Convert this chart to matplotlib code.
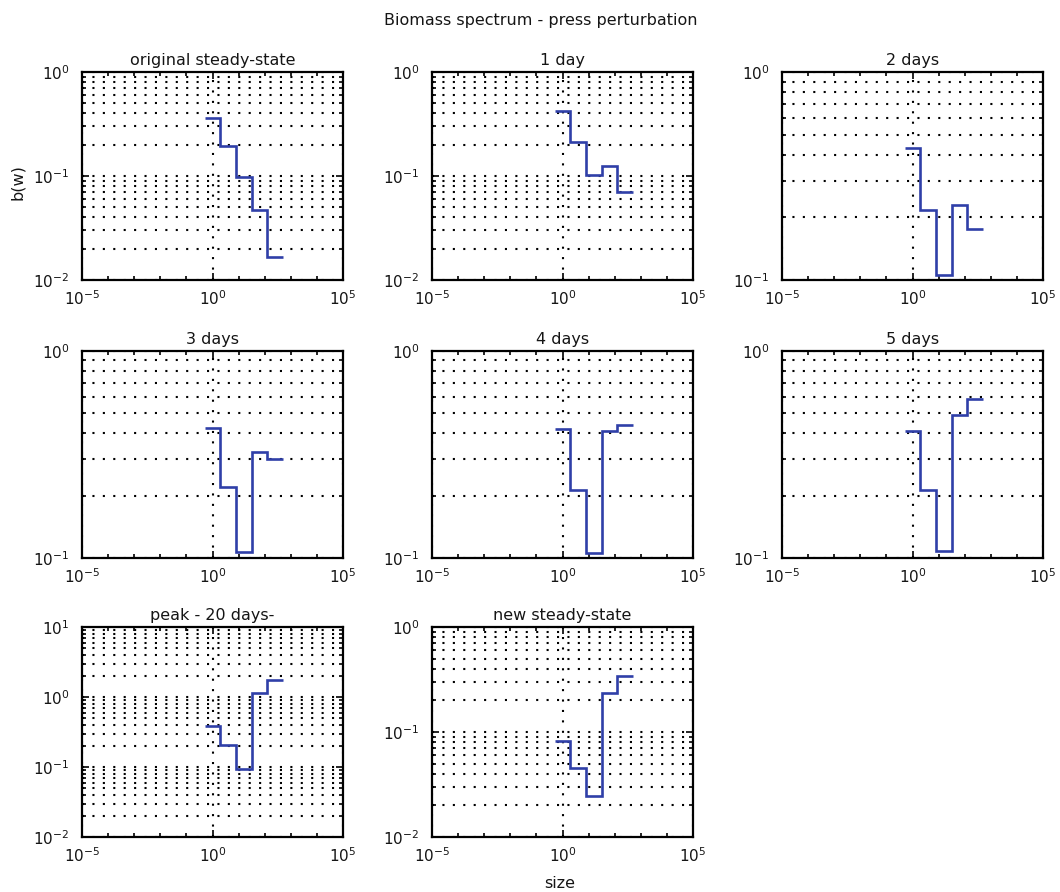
import numpy as np
import matplotlib
matplotlib.use("Agg")
import matplotlib.pyplot as plt
from matplotlib.ticker import LogLocator, NullFormatter, FixedLocator

# size-class edges (body size, log scale) shared by all panels
size_edges = [0.5, 2.0, 8.0, 32.0, 128.0, 512.0]

titles = ["original steady-state", "1 day", "2 days",
          "3 days", "4 days", "5 days",
          "peak - 20 days-", "new steady-state"]

# biomass per size class for each time snapshot
b_original = [0.365, 0.195, 0.098, 0.047, 0.0165]
b_day1 = [0.418, 0.212, 0.103, 0.126, 0.070]
b_day2 = [0.429, 0.218, 0.106, 0.229, 0.176]
b_day3 = [0.424, 0.221, 0.107, 0.326, 0.301]
b_day4 = [0.422, 0.214, 0.106, 0.411, 0.440]
b_day5 = [0.409, 0.214, 0.108, 0.489, 0.588]
b_peak = [0.390, 0.206, 0.093, 1.13, 1.76]
b_new = [0.082, 0.0455, 0.0248, 0.235, 0.343]

series = [b_original, b_day1, b_day2, b_day3, b_day4, b_day5, b_peak, b_new]

# y-axis limits per panel
ylims = [(1e-2, 1e0), (1e-2, 1e0), (1e-1, 1e0),
         (1e-1, 1e0), (1e-1, 1e0), (1e-1, 1e0),
         (1e-2, 1e1), (1e-2, 1e0)]

x_limits = (1e-5, 1e5)
x_major = [1e-5, 1e0, 1e5]

W, H = 1060, 892
fig = plt.figure(figsize=(W / 100, H / 100), dpi=100)
plt.rcParams["font.family"] = ["DejaVu Sans"]
plt.rcParams["mathtext.default"] = "regular"

col_left = [82, 432, 782]
row_top = [72, 351, 627]
row_h = [208, 207, 210]
ax_w = 261

line_color = "#2f3fa8"
grid_kw = dict(color="black", linewidth=1.5, linestyle=(0, (1, 4)))
text_color = "#151515"

for i, (vals, title, ylim) in enumerate(zip(series, titles, ylims)):
    r, c = divmod(i, 3)
    left = col_left[c] / W
    bottom = 1 - (row_top[r] + row_h[r]) / H
    ax = fig.add_axes([left, bottom, ax_w / W, row_h[r] / H])
    ax.set_xscale("log")
    ax.set_yscale("log")
    ax.set_xlim(*x_limits)
    ax.set_ylim(*ylim)

    ax.stairs(vals, size_edges, baseline=None, color=line_color, linewidth=1.9, zorder=3)

    ax.xaxis.set_major_locator(FixedLocator(x_major))
    ax.xaxis.set_minor_locator(LogLocator(base=10, subs=(1.0,), numticks=20))
    ax.xaxis.set_minor_formatter(NullFormatter())
    ax.yaxis.set_major_locator(LogLocator(base=10, numticks=10))
    ax.yaxis.set_minor_locator(LogLocator(base=10, subs=np.arange(2, 10), numticks=20))
    ax.yaxis.set_minor_formatter(NullFormatter())

    ax.grid(True, which="major", axis="x", **grid_kw)
    ax.grid(True, which="both", axis="y", **grid_kw)

    ax.tick_params(which="both", direction="in", top=True, right=True,
                   labelsize=11, width=1.2, colors="black", labelcolor=text_color)
    ax.tick_params(which="major", length=5)
    ax.tick_params(which="minor", length=3)
    ax.tick_params(axis="y", pad=9)
    ax.tick_params(axis="x", pad=7)
    for sp in ax.spines.values():
        sp.set_linewidth(1.6)
        sp.set_color("black")

    ax.set_title(title, fontsize=11.5, pad=5, color=text_color)

fig.text(541 / W, 1 - 20 / H, "Biomass spectrum - press perturbation",
         ha="center", va="center", fontsize=11.5, color=text_color)
fig.text(18 / W, 1 - 182 / H, "b(w)", rotation=90, ha="center", va="center",
         fontsize=11.5, color=text_color)
fig.text(560 / W, 1 - 883 / H, "size", ha="center", va="center",
         fontsize=11.5, color=text_color)

fig.savefig("out.png", dpi=100, facecolor="white")
